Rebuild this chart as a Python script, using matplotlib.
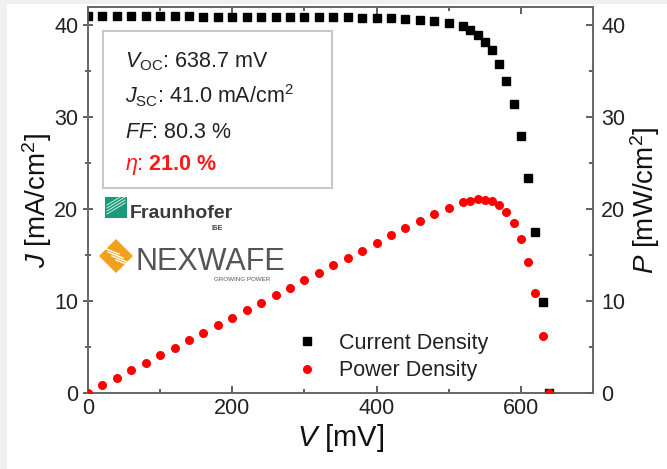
import matplotlib
matplotlib.use('Agg')
import matplotlib.pyplot as plt
from matplotlib.patches import Rectangle, Polygon
from matplotlib.lines import Line2D

plt.rcParams['font.family'] = ['Liberation Sans', 'DejaVu Sans']
plt.rcParams['mathtext.fontset'] = 'custom'
plt.rcParams['mathtext.rm'] = 'Liberation Sans'
plt.rcParams['mathtext.it'] = 'Liberation Sans:italic'
plt.rcParams['mathtext.bf'] = 'Liberation Sans:bold'

# measured J-V curve
v_mv = [0, 20, 40, 60, 80, 100, 120, 140, 160, 180, 200, 220, 240, 260, 280,
        300, 320, 340, 360, 380, 400, 420, 440, 460, 480, 500,
        520, 530, 540, 550, 560, 570, 580, 590, 600, 610, 620, 630, 638.7]
j_ma = [41.0, 41.0, 41.0, 41.0, 41.0, 41.0, 41.0, 41.0, 40.9, 40.9, 40.9, 40.9, 40.9, 40.9, 40.9,
        40.9, 40.9, 40.9, 40.9, 40.8, 40.8, 40.8, 40.7, 40.6, 40.5, 40.3,
        39.9, 39.5, 39.0, 38.2, 37.3, 35.8, 33.9, 31.4, 28.0, 23.4, 17.5, 9.9, 0.0]
p_mw = [0.0, 0.82, 1.64, 2.46, 3.28, 4.10, 4.92, 5.74, 6.54, 7.36, 8.18, 9.00, 9.82, 10.63, 11.45,
        12.27, 13.09, 13.91, 14.72, 15.50, 16.32, 17.14, 17.91, 18.68, 19.44, 20.15,
        20.75, 20.94, 21.06, 21.01, 20.89, 20.41, 19.66, 18.53, 16.80, 14.27, 10.85, 6.24, 0.0]

W, H = 667, 469
fig = plt.figure(figsize=(W / 100, H / 100), dpi=100)
fig.patch.set_facecolor('#f0f0f0')
fig.add_artist(Rectangle((7 / W, 0), 1, 1 - 4 / H, transform=fig.transFigure,
                         facecolor='white', edgecolor='none', zorder=-1))

ax = fig.add_axes([88 / W, 1 - 393 / H, 505 / W, 386 / H])
ax.set_facecolor('none')
ax2 = ax.twinx()

ax.plot(v_mv, j_ma, 's', color='black', ms=6, zorder=3)
ax2.plot(v_mv, p_mw, 'o', color='#ff0000', ms=6.5, mec='none', zorder=4)

for a in (ax, ax2):
    a.set_xlim(0, 700)
    a.set_ylim(0, 42)
    a.set_yticks([0, 10, 20, 30, 40])
    a.set_yticks([5, 15, 25, 35], minor=True)
    for s in a.spines.values():
        s.set_color('#666666')
        s.set_linewidth(1.2)
ax.set_xticks([0, 200, 400, 600])
ax.set_xticks([100, 300, 500, 700], minor=True)
ax.tick_params(axis='x', which='both', direction='in', top=True, colors='#444444',
               labelsize=15.5, labelcolor='#222222')
ax.tick_params(axis='x', which='major', length=5, width=1.2)
ax.tick_params(axis='x', which='minor', length=3, width=1.2)
ax.tick_params(axis='y', which='both', direction='inout', colors='#444444',
               labelsize=15.5, labelcolor='#222222')
ax.tick_params(axis='y', which='major', length=7, width=1.2)
ax.tick_params(axis='y', which='minor', length=5, width=1.2)
ax2.tick_params(axis='y', which='both', direction='in', colors='#444444',
                labelsize=15.5, labelcolor='#222222', pad=6)
ax2.tick_params(axis='y', which='major', length=5, width=1.2)
ax2.tick_params(axis='y', which='minor', length=3, width=1.2)

ax.set_xlabel(r'$V$ [mV]', fontsize=21, color='#111111', labelpad=2)
ax.set_ylabel(r'$J$ [mA/cm$^2$]', fontsize=20, color='#111111', labelpad=0)
ax2.set_ylabel(r'$P$ [mW/cm$^2$]', fontsize=20, color='#111111', labelpad=2)

handles = [Line2D([], [], ls='none', marker='s', color='black', ms=6),
           Line2D([], [], ls='none', marker='o', color='#ff0000', mec='none', ms=6.5)]
ax2.legend(handles, ['Current Density', 'Power Density'], frameon=False,
           fontsize=15.5, loc='upper left', bbox_to_anchor=(296 / W, 1 - 333 / H),
           bbox_transform=fig.transFigure, borderpad=0, borderaxespad=0,
           handlelength=1.0, handletextpad=1.0, labelspacing=0.3, labelcolor='#222222')

# overlay in pixel coordinates for info box and logos
ov = fig.add_axes([0, 0, 1, 1], zorder=10)
ov.set_xlim(0, W)
ov.set_ylim(H, 0)
ov.axis('off')
ov.patch.set_alpha(0)

ov.add_patch(Rectangle((103, 31), 229, 157, facecolor='white', edgecolor='#c8c8c8', lw=1.5))
ov.text(125, 67, r'$V_{\rm OC}$: 638.7 mV', fontsize=15.5, color='#222222', va='baseline')
ov.text(125, 103, r'$J_{\rm SC}$: 41.0 mA/cm$^2$', fontsize=15.5, color='#222222', va='baseline')
ov.text(125, 138, r'$FF$: 80.3 %', fontsize=15.5, color='#222222', va='baseline')
ov.text(125, 170, r'$\eta$: $\mathbf{21.0\ \%}$', fontsize=15.5, color='#ff1a1a', va='baseline')

# Fraunhofer logo
ov.add_patch(Rectangle((105, 197), 22, 21, facecolor='#1a9a78', edgecolor='none'))
for k in range(4):
    ov.plot([107, 125], [214 - k * 3, 203 - k * 3], color='white', lw=0.7, alpha=0.8)
ov.text(130, 218, 'Fraunhofer', fontsize=14, fontweight='bold', color='#3a3a3a', va='baseline')
ov.text(211, 230, 'ISE', fontsize=5, fontweight='bold', color='#3a3a3a', va='baseline')

# NEXWAFE logo
ov.add_patch(Polygon([[99, 256], [116, 239], [133, 256], [116, 273]], closed=True,
                     facecolor='#f2a01c', edgecolor='none'))
for k in range(4):
    ov.plot([104 + k * 4, 119 + k * 4], [248 + k * 4, 254 + k * 4], color='white', lw=1.0)
ov.text(136, 270, 'NEXWAFE', fontsize=22, color='#555555', va='baseline')
ov.text(214, 281, 'GROWING POWER', fontsize=4.5, color='#555555', va='baseline')

fig.savefig('out.png', dpi=100)
